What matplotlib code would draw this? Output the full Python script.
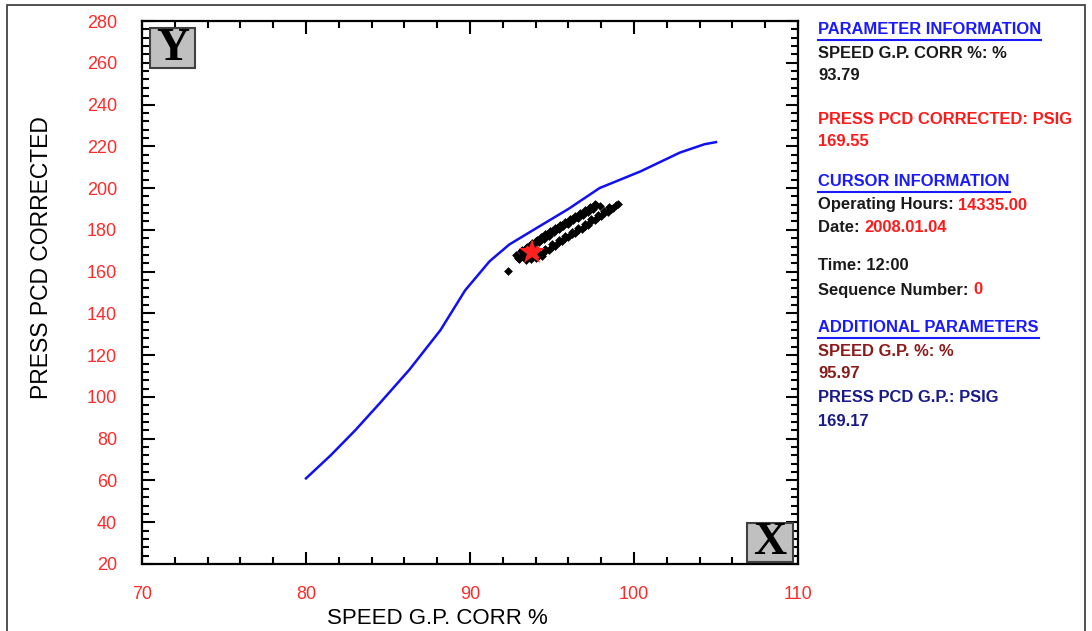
import matplotlib
matplotlib.use("Agg")
import matplotlib.pyplot as plt
from matplotlib.patches import Rectangle
from matplotlib.lines import Line2D
from matplotlib.ticker import MultipleLocator

plt.rcParams['font.family'] = ['Liberation Sans', 'DejaVu Sans']

# ---- data ----
curve_x = [80.0, 81.5, 83.0, 84.5, 86.3, 88.2, 89.7, 91.2, 92.4, 94.3, 96.0, 97.9, 100.4, 102.8, 104.3, 105.0]
curve_y = [61, 72, 84, 97, 113, 132, 151, 165, 173, 182, 190, 200, 208, 217, 221, 222]

scatter_x = [92.3, 92.8, 93.0, 93.1, 93.2, 93.4, 93.6, 94.0, 94.2, 93.3, 93.5, 92.9, 93.7, 94.4,
             93.2, 93.5, 93.8, 94.1, 94.4, 94.7, 95.0, 95.3, 95.6, 95.9, 96.2, 96.5, 96.8, 97.1, 97.4, 97.7,
             93.6, 93.9, 94.2, 94.5, 94.8, 95.1, 95.4, 95.7, 96.0, 96.3, 96.6, 96.9, 97.2, 97.5, 97.9,
             93.4, 93.7, 94.0, 94.3, 94.6, 94.9, 95.2, 95.5, 95.8, 96.1, 96.4, 96.7, 97.0, 97.3, 97.6,
             94.4, 94.8, 95.2, 95.6, 96.0, 96.4, 96.8, 97.2, 97.6, 98.0, 98.4, 98.7, 99.0,
             94.6, 95.0, 95.4, 95.8, 96.2, 96.6, 97.0, 97.4, 97.8, 98.2, 98.6, 98.9,
             94.2, 94.6, 95.0, 95.4, 95.8, 96.2, 96.6, 97.0, 97.4, 97.8, 98.2, 98.5]
scatter_y = [160.5, 168.0, 166.0, 170.0, 167.5, 165.5, 168.0, 166.5, 168.0, 169.5, 167.0, 166.5, 166.0, 167.5,
             170.5, 172.0, 173.5, 175.0, 176.5, 178.0, 179.5, 181.0, 182.3, 183.5, 185.0, 186.2, 187.5, 189.0, 190.5, 192.0,
             171.0, 172.8, 174.2, 175.8, 177.2, 178.8, 180.2, 181.8, 183.0, 184.5, 185.8, 187.2, 188.5, 190.0, 191.5,
             171.5, 173.2, 174.8, 176.4, 177.8, 179.4, 180.8, 182.4, 183.8, 185.2, 186.6, 188.0, 189.4, 190.8, 192.3,
             168.5, 170.5, 172.5, 174.5, 176.5, 178.5, 180.5, 182.5, 184.5, 186.5, 188.5, 190.5, 192.5,
             170.0, 172.0, 174.0, 176.0, 178.0, 180.0, 182.0, 184.0, 186.0, 188.0, 190.0, 191.8,
             169.0, 171.0, 173.0, 175.0, 177.0, 179.0, 181.0, 183.0, 185.0, 187.0, 189.0, 190.8]

cursor_x = 93.79
cursor_y = 169.55

x_ticks = [70, 80, 90, 100, 110]
y_ticks = [20, 40, 60, 80, 100, 120, 140, 160, 180, 200, 220, 240, 260, 280]

W, H = 1092, 631
fig = plt.figure(figsize=(W / 100, H / 100), dpi=100)
fig.patch.set_facecolor('white')

def fx(px):
    return px / W

def fy(py):
    return 1 - py / H

# outer frame
fig.add_artist(Rectangle((fx(7), fy(640)), fx(1085) - fx(7), fy(5) - fy(640),
                         transform=fig.transFigure, fill=False, ec='#333333', lw=1.2))

ax = fig.add_axes([fx(142), fy(564), fx(798) - fx(142), fy(21) - fy(564)])
ax.plot(curve_x, curve_y, color='#1010f0', lw=1.8, zorder=2)
ax.scatter(scatter_x, scatter_y, s=20, marker='D', color='black', lw=0, zorder=3)
ax.plot([cursor_x], [cursor_y], marker='*', color='#ff2020', ms=19, mew=0, zorder=4)
ax.plot([cursor_x], [cursor_y], marker='x', color='#ff2020', ms=9, mew=2.2, zorder=4)

ax.set_xlim(70, 110)
ax.set_ylim(20, 280)
ax.set_xticks(x_ticks)
ax.set_yticks(y_ticks)
ax.xaxis.set_minor_locator(MultipleLocator(2))
ax.yaxis.set_minor_locator(MultipleLocator(4))
ax.tick_params(which='both', direction='in', top=True, right=True, color='black', width=1.5)
ax.tick_params(which='major', length=9, labelsize=13, labelcolor='#ff2a2a')
ax.tick_params(axis='y', which='major', pad=18)
ax.tick_params(axis='x', which='major', pad=16)
ax.tick_params(which='minor', length=5)
for s in ax.spines.values():
    s.set_linewidth(1.6)

fig.text(fx(437), fy(618), 'SPEED G.P. CORR %', fontsize=16, ha='center', va='center')
fig.text(fx(42), fy(258), 'PRESS PCD CORRECTED', fontsize=16.5, ha='center', va='center', rotation=90)

# icon boxes
def icon(x0, y0, x1, y1, letter):
    fig.add_artist(Rectangle((fx(x0), fy(y1)), fx(x1) - fx(x0), fy(y0) - fy(y1),
                             transform=fig.transFigure, fc='#c0c0c0', ec='#404040', lw=1.5, zorder=5))
    fig.text(fx((x0 + x1) / 2), fy((y0 + y1) / 2 + 1), letter, fontsize=33, fontweight='bold',
             family='Liberation Serif', ha='center', va='center', color='black', zorder=6)

icon(150, 28, 195, 68, 'Y')
icon(747, 523, 793, 562, 'X')

# info panel
fig.canvas.draw()
renderer = fig.canvas.get_renderer()
FS = 11.9
X0 = 818

def put(px, py, s, color, underline=False):
    t = fig.text(fx(px), fy(py), s, fontsize=FS, fontweight='bold', color=color, ha='left', va='center')
    bb = t.get_window_extent(renderer)
    if underline:
        fig.add_artist(Line2D([bb.x0 / W, bb.x1 / W], [fy(py + 10), fy(py + 10)],
                              transform=fig.transFigure, color=color, lw=1.5))
    return bb.x1

BLUE = '#1a1aff'
RED = '#ff1a1a'
DRED = '#8b1a1a'
NAVY = '#1a1a8b'
BLK = '#1a1a1a'

put(X0, 30, 'PARAMETER INFORMATION', BLUE, underline=True)
put(X0, 53, 'SPEED G.P. CORR %: %', BLK)
put(X0, 76, '93.79', BLK)
put(X0, 119, 'PRESS PCD CORRECTED: PSIG', RED)
put(X0, 142, '169.55', RED)
put(X0, 182, 'CURSOR INFORMATION', BLUE, underline=True)
e = put(X0, 205, 'Operating Hours: ', BLK)
put(e, 205, '14335.00', RED)
e = put(X0, 228, 'Date: ', BLK)
put(e, 228, '2008.01.04', RED)
put(X0, 265, 'Time: 12:00', BLK)
e = put(X0, 290, 'Sequence Number: ', BLK)
put(e, 290, '0', RED)
put(X0, 328, 'ADDITIONAL PARAMETERS', BLUE, underline=True)
put(X0, 351, 'SPEED G.P. %: %', DRED)
put(X0, 374, '95.97', DRED)
put(X0, 397, 'PRESS PCD G.P.: PSIG', NAVY)
put(X0, 421, '169.17', NAVY)

fig.savefig('out.png', dpi=100)
